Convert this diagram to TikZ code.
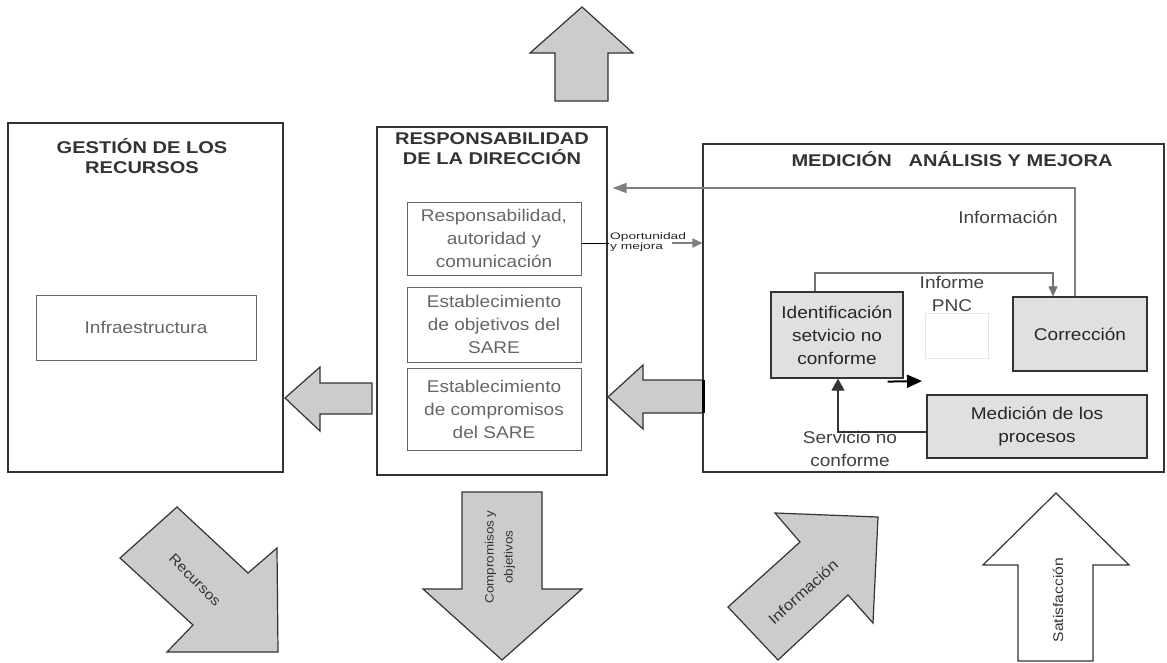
\documentclass[tikz,border=0pt]{standalone}
\usepackage{fontspec}
\setmainfont{Liberation Sans}
\newfontfamily\famTxt{Liberation Sans}[FakeStretch=1.12]
\newfontfamily\famTtl{Liberation Sans}[FakeStretch=1.18]
\newfontfamily\famSm{Liberation Sans}[FakeStretch=1.45]
\newcommand\fTxt{\famTxt\fontsize{17}{23}\selectfont}
\newcommand\fTtl{\famTtl\bfseries\fontsize{17}{20}\selectfont}
\newcommand\fSm{\famSm\fontsize{9.5}{10}\selectfont}
\newcommand\fArr{\famTxt\fontsize{14}{16}\selectfont}
\usetikzlibrary{arrows.meta}
\begin{document}
\begin{tikzpicture}[x=1pt,y=-1pt,
  bigbox/.style={draw=black!80, line width=1.1pt, fill=white, inner sep=0pt},
  subbox/.style={draw=black!60, line width=1pt, fill=white, align=center, text=black!60, font=\fTxt, inner sep=0pt},
  gbox/.style={draw=black!80, line width=1.2pt, fill=black!12, align=center, text=black!85, font=\fTxt, inner sep=0pt},
  ttl/.style={align=center, text=black!80, font=\fTtl, inner sep=0pt},
  lbl/.style={align=center, text=black!75, font=\fTxt, inner sep=0pt},
  blk/.style={draw=black!80, line width=1.2pt, fill=black!20, line join=miter},
  arrtxt/.style={text=black!80, font=\fArr, align=center, inner sep=0pt},
  faint/.style={draw=black!10, line width=0.8pt, inner sep=0pt}
]
\useasboundingbox (0,0) rectangle (1167,662);

% ---- big boxes ----
\node[bigbox, minimum width=275pt, minimum height=349pt] (lb) at (145.5,297.5) {};
\node[bigbox, minimum width=230pt, minimum height=348pt] (mb) at (492,301) {};
\node[bigbox, minimum width=461pt, minimum height=328pt] (rb) at (933.5,308) {};

% ---- titles ----
\node[ttl] (lt) at (142,156) {GESTIÓN DE LOS\\RECURSOS};
\node[ttl] (mt) at (492,149) {RESPONSABILIDAD\\DE LA DIRECCIÓN};
\node[ttl] (rt) at (952,159) {MEDICIÓN \ \ ANÁLISIS Y MEJORA};

% ---- left content ----
\node[subbox, minimum width=220pt, minimum height=65pt] (inf) at (146,327.5) {Infraestructura};

% ---- middle content ----
\node[subbox, minimum width=174pt, minimum height=73pt] (r1) at (494,238.5) {Responsabilidad,\\autoridad y\\comunicación};
\node[subbox, minimum width=174pt, minimum height=75pt] (r2) at (494,324.5) {Establecimiento\\de objetivos del\\SARE};
\node[subbox, minimum width=174pt, minimum height=82pt] (r3) at (494,409) {Establecimiento\\de compromisos\\del SARE};

% ---- right content ----
\node[gbox, minimum width=132pt, minimum height=86pt] (id) at (837,335) {Identificación\\setvicio no\\conforme};
\node[gbox, minimum width=134pt, minimum height=74pt] (co) at (1080,334) {Corrección};
\node[gbox, minimum width=220pt, minimum height=63pt] (me) at (1037,426.5) {Medición de los\\procesos};
\node[faint, minimum width=63pt, minimum height=45pt] (pncbox) at (956.5,335.5) {};
\node[lbl] (pnc) at (952,294) {Informe\\PNC};
\node[lbl] (infl) at (1008,217) {Información};
\node[lbl] (snc) at (850,449) {Servicio no\\conforme};
\node[font=\fSm, text=black!85, align=left, anchor=west, inner sep=0pt] (op) at (610,242) {Oportunidad\\y mejora};

% ---- helper coordinates ----
\coordinate (fbY) at (0,188);
\coordinate (pncY) at (0,273);
\coordinate (opA) at (609,243);
\coordinate (opB) at (672,243);
\coordinate (ie) at (922,381);

% ---- connectors ----
\draw[black, line width=1pt] (r1.east |- opA) -- (opA);
\draw[black!50, line width=2pt, -{Triangle[length=10pt,width=9pt]}] (opB) -- (opB -| rb.west);
\draw[black!50, line width=1.4pt, -{Triangle[length=14pt,width=10pt]}]
  ([xshift=-5pt]co.north) |- ([xshift=5pt]mb.east |- fbY);
\draw[black!55, line width=1.1pt, -{Triangle[length=10pt,width=9pt]}]
  ([xshift=-22pt]id.north) |- ([xshift=-27pt]co.north |- pncY) -- ([xshift=-27pt]co.north);
\draw[black!80, line width=1.2pt, -{Triangle[length=12pt,width=13pt]}]
  ([yshift=-5.5pt]me.west) -| ([xshift=1pt]id.south);
\draw[black, line width=2pt, -{Triangle[length=15pt,width=13pt]}]
  ([xshift=-16pt,yshift=-3pt]id.south east) -- (ie);

% ---- block arrows ----
\draw[blk] (582,7) -- (633,53) -- (608,53) -- (608,101) -- (555,101) -- (555,53) -- (530,53) -- cycle;
\draw[blk] (285,398) -- (320,367) -- (320,383) -- (372,383) -- (372,414) -- (320,414) -- (320,431) -- cycle;
\draw[blk] (608,397) -- (643,365) -- (643,380) -- (703,380) -- (703,413) -- (643,413) -- (643,429) -- cycle;
\draw[black, line width=3pt] (703,380) -- (703,413);
\draw[blk] (177,507) -- (248,573) -- (277,548) -- (278,652) -- (167,652) -- (193,625) -- (120,558) -- cycle;
\draw[blk] (462,492) -- (542,492) -- (542,589) -- (582,589) -- (502,660) -- (423,589) -- (462,589) -- cycle;
\draw[blk] (728,607) -- (800,542) -- (775,513) -- (878,517) -- (873,623) -- (848,595) -- (778,660) -- cycle;
\draw[blk, fill=white] (1056,493) -- (1129,565) -- (1093,565) -- (1093,661) -- (1018,661) -- (1018,565) -- (983,565) -- cycle;

% ---- block arrow texts ----
\node[arrtxt, rotate=-45] (trec) at (195,580) {Recursos};
\node[arrtxt, rotate=90, font=\famTxt\fontsize{12}{19}\selectfont] (tcom) at (500,557) {Compromisos y\\objetivos};
\node[arrtxt, rotate=42, font=\famTxt\fontsize{15}{17}\selectfont] (tinf) at (803,592) {Información};
\node[arrtxt, rotate=90] (tsat) at (1058,600) {Satisfacción};
\end{tikzpicture}
\end{document}
